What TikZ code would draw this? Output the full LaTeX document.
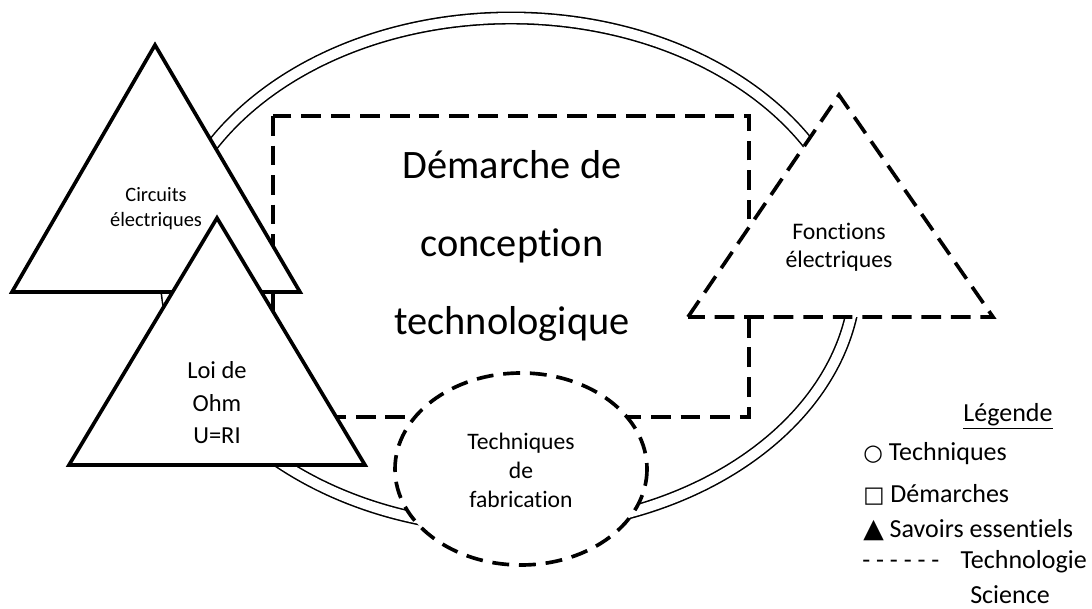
\documentclass[tikz,border=0pt]{standalone}
\usepackage{fontspec}
\setmainfont{Carlito}[Ligatures=NoCommon]
\newfontfamily\symb{DejaVu Sans}
\usetikzlibrary{positioning}

\tikzset{
  savoir/.style={draw, line width=2.6pt, fill=white},
  techno/.style={draw, line width=2.6pt, dash pattern=on 14pt off 7pt, fill=white},
  lien/.style={draw, double, double distance=7pt, line width=1.1pt},
  legende/.style={font=\fontsize{18.5}{22}\selectfont, inner sep=0pt}
}

\begin{document}
\begin{tikzpicture}[x=0.025cm, y=-0.025cm]
\useasboundingbox (0,0) rectangle (1092,609);
% The double ring sits behind everything else
\draw[lien] (511,273) ellipse [x radius=345, y radius=255];
\draw[techno, fill=none] (273,116) rectangle (749,417);
% Savoirs essentiels are solid triangles, drawn on top of the box
% (base of a multi-line node = baseline of its last line)
\draw[savoir] (12,292) -- (155,45) -- (300,292) -- cycle;
\node[align=center, anchor=base, inner sep=0pt, font=\fontsize{14.5}{17.8}\selectfont] (circuits) at (156,227) {Circuits\\électriques};
\draw[savoir] (69,465) -- (217,218) -- (365,465) -- cycle;
\node[align=center, anchor=base, inner sep=0pt, font=\fontsize{17.4}{23.2}\selectfont] (ohm) at (217,444) {Loi de\\Ohm\\U=RI};
% Technologie is dashed
\draw[techno] (688,317) -- (839,95) -- (993,317) -- cycle;
\node[align=center, anchor=base, inner sep=0pt, font=\fontsize{16.9}{20.6}\selectfont] (fonctions) at (839,268) {Fonctions\\électriques};
\draw[techno, dash pattern=on 12pt off 7pt] (521,469) ellipse [x radius=126, y radius=96];
\node[align=center, anchor=base, inner sep=0pt, font=\fontsize{16.8}{20.6}\selectfont] (fabrication) at (521,507) {Techniques\\de\\fabrication};
\node[align=center, anchor=base, inner sep=0pt, font=\fontsize{28.7}{55.5}\selectfont] (demarche) at (512,335) {Démarche de\\conception\\technologique};
% Legend, one line per node
\node[legende, anchor=base] (titre) at (1008,422) {\underline{Légende}};
\node[legende, anchor=base west] (legtech) at (863,460) {{\symb\fontsize{16}{16}\selectfont ○} Techniques};
\node[legende, anchor=base west] (legdem) at (863,502) {{\symb\fontsize{16}{16}\selectfont □} Démarches};
\node[legende, anchor=base west] (legsav) at (863,537) {{\symb\fontsize{19}{19}\selectfont ▲} Savoirs essentiels};
\node[legende, anchor=base west] (legtechno) at (862,568) {- - - - - -\hspace{15pt}Technologie};
\node[legende, anchor=base west] (legsci) at (970,603) {Science};
\end{tikzpicture}
\end{document}
